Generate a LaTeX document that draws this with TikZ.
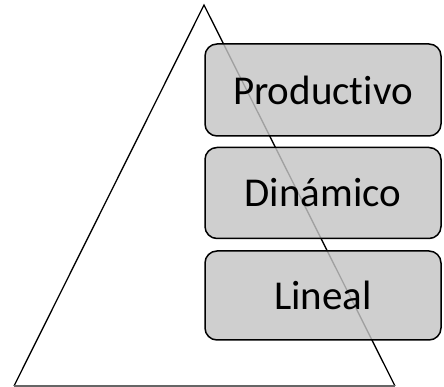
\documentclass[tikz,border=0pt]{standalone}
\usepackage{fontspec}
\setmainfont[Ligatures=NoCommon]{Carlito}
\usetikzlibrary{positioning}
\tikzset{
    nivel/.style={draw=black, line width=1.5pt, rounded corners=12pt, fill={rgb,255:red,196;green,196;blue,196}, fill opacity=0.82, text opacity=1, minimum width=236pt, font=\fontsize{41}{44}\selectfont}
}
\begin{document}
\begin{tikzpicture}[x=1pt,y=1pt]
        \useasboundingbox (0,0) rectangle (444,387);
        \coordinate (apex) at (204,382);
        \coordinate (baseL) at (14,1);
        \coordinate (baseR) at (395,1);
        \draw[line width=1.3pt] (baseL) -- (apex) -- (baseR);
        \draw[line width=1.3pt, black!60] (baseL) -- (baseR);
        \node[nivel, minimum height=92pt] (prod) at (323,297) {Productivo};
        \node[nivel, minimum height=91pt, below=10pt of prod] (din) {Dinámico};
        \node[nivel, minimum height=89pt, below=11pt of din] (lin) {Lineal};
    \end{tikzpicture}
\end{document}
